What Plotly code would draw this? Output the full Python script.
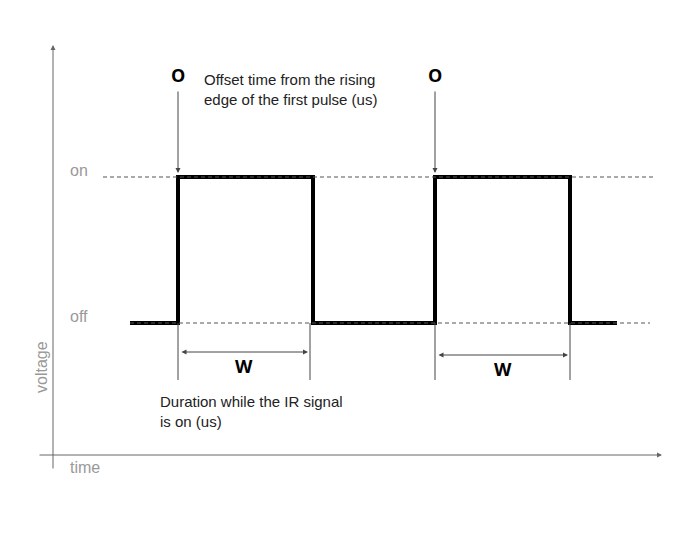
import plotly.graph_objects as go

# drawing units: 699 x 540 canvas, y grows downward
LEVEL_ON = 177
LEVEL_OFF = 323
signal_t = [130, 178, 178, 313, 313, 435, 435, 570, 570, 617]
signal_v = [LEVEL_OFF, LEVEL_OFF, LEVEL_ON, LEVEL_ON, LEVEL_OFF,
            LEVEL_OFF, LEVEL_ON, LEVEL_ON, LEVEL_OFF, LEVEL_OFF]
pulse_starts = [178, 435]
pulse_ends = [310, 570]
width_arrow_y = [352, 355]
gray = "#999999"

fig = go.Figure()
fig.add_trace(go.Scatter(x=signal_t, y=signal_v, mode="lines",
                         line=dict(color="black", width=4), hoverinfo="skip"))

# dashed level guides
fig.add_shape(type="line", x0=103, x1=655, y0=LEVEL_ON, y1=LEVEL_ON,
              line=dict(color="#555", width=1, dash="4px,3px"))
fig.add_shape(type="line", x0=130, x1=650, y0=LEVEL_OFF, y1=LEVEL_OFF,
              line=dict(color="#555", width=1, dash="4px,3px"))

# axes arrows
fig.add_annotation(x=53, y=45, ax=53, ay=470, xref="x", yref="y", axref="x", ayref="y",
                   text="", showarrow=True, arrowhead=2, arrowsize=1, arrowwidth=1, arrowcolor="#666")
fig.add_annotation(x=662, y=455, ax=38, ay=455, xref="x", yref="y", axref="x", ayref="y",
                   text="", showarrow=True, arrowhead=2, arrowsize=1, arrowwidth=1, arrowcolor="#666")

for s, e, wy in zip(pulse_starts, pulse_ends, width_arrow_y):
    for xv in (s, e):
        fig.add_shape(type="line", x0=xv, x1=xv, y0=LEVEL_OFF, y1=380,
                      line=dict(color="#444", width=1))
    fig.add_annotation(x=e - 2, y=wy, ax=s + 2, ay=wy, xref="x", yref="y", axref="x", ayref="y",
                       text="", showarrow=True, arrowhead=2, arrowside="end+start",
                       arrowsize=1, arrowwidth=1, arrowcolor="#444")
    fig.add_annotation(x=(s + e) / 2, y=wy + 14, text="<b>W</b>", showarrow=False,
                       font=dict(size=18, color="black"))
    # offset marker
    fig.add_annotation(x=s, y=75, text="<b>O</b>", showarrow=False,
                       font=dict(size=18, color="black"))
    fig.add_annotation(x=s, y=LEVEL_ON - 4, ax=s, ay=90, xref="x", yref="y", axref="x", ayref="y",
                       text="", showarrow=True, arrowhead=2, arrowsize=1, arrowwidth=1, arrowcolor="#444")

txt = dict(family="Liberation Sans, Arial", size=15, color="#222")
fig.add_annotation(x=202, y=89, text="Offset time from the rising<br>edge of the first pulse (us)",
                   showarrow=False, xanchor="left", align="left", font=txt)
fig.add_annotation(x=158, y=411, text="Duration while the IR signal<br>is on (us)",
                   showarrow=False, xanchor="left", align="left", font=txt)

lab = dict(family="Liberation Sans, Arial", size=16, color=gray)
fig.add_annotation(x=68, y=170, text="on", showarrow=False, xanchor="left", font=lab)
fig.add_annotation(x=68, y=316, text="off", showarrow=False, xanchor="left", font=lab)
fig.add_annotation(x=68, y=467, text="time", showarrow=False, xanchor="left", font=lab)
fig.add_annotation(x=41, y=367, text="voltage", showarrow=False, textangle=-90, font=lab)

fig.update_layout(width=699, height=540, margin=dict(l=0, r=0, t=0, b=0),
                  plot_bgcolor="white", paper_bgcolor="white", showlegend=False,
                  xaxis=dict(range=[8, 707], visible=False, fixedrange=True),
                  yaxis=dict(range=[548, 8], visible=False, fixedrange=True))
fig.write_html("out.html")
